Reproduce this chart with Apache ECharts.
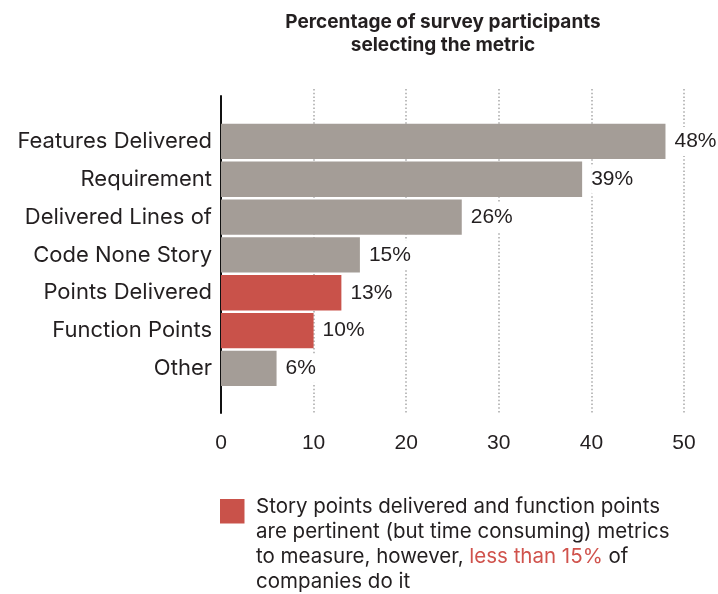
<!DOCTYPE html>
<html>
<head>
<meta charset="utf-8">
<script src="https://cdn.jsdelivr.net/npm/echarts@6/dist/echarts.min.js"></script>
<style>
  html, body { margin: 0; padding: 0; background: #fff; }
  #chart { width: 718px; height: 594px; }
</style>
</head>
<body>
<div id="chart"></div>
<script>
// Survey: share of participants choosing each productivity metric
const categories = [
  'Features Delivered',
  'Requirement',
  'Delivered Lines of',
  'Code None Story',
  'Points Delivered',
  'Function Points',
  'Other'
];
const percentValues = [48, 39, 26, 15, 13, 10, 6];
const highlighted = ['Points Delivered', 'Function Points'];
const xTicks = [0, 10, 20, 30, 40, 50];

const GREY = '#a49d97';
const RED = '#c9524a';
const INK = '#231f20';
const TEXT_FONT = 'Inter';
const NUM_FONT = 'Liberation Sans';

const chart = echarts.init(document.getElementById('chart'), null, { renderer: 'canvas' });

const barData = percentValues.map((v, i) => ({
  value: v,
  itemStyle: { color: highlighted.includes(categories[i]) ? RED : GREY }
}));

const option = {
  backgroundColor: '#fff',
  animation: false,
  title: {
    text: 'Percentage of survey participants\nselecting the metric',
    left: 438,
    top: 6,
    textAlign: 'center',
    textStyle: {
      fontFamily: TEXT_FONT,
      fontWeight: 'bold',
      fontSize: 19,
      lineHeight: 22.6,
      color: INK
    }
  },
  grid: [
    // scale + dotted guides
    { left: 221, right: 34, top: 89, bottom: 181 },
    // vertical axis rule
    { left: 221, right: 34, top: 96, bottom: 181 },
    // bars
    { left: 221, right: 34, top: 122.5, height: 264.8 }
  ],
  xAxis: [
    {
      gridIndex: 0, type: 'value', min: xTicks[0], max: xTicks[xTicks.length - 1],
      interval: xTicks[1] - xTicks[0],
      axisLine: { show: false }, axisTick: { show: false },
      axisLabel: { margin: 20, fontFamily: NUM_FONT, fontSize: 21, color: INK },
      splitLine: {
        show: true, showMinLine: false,
        lineStyle: { color: '#a8a8a8', width: 1.5, type: [1.5, 2.2] }
      }
    },
    {
      gridIndex: 1, type: 'value', min: 0, max: 50, show: false
    },
    {
      gridIndex: 2, type: 'value', min: 0, max: 50,
      axisLine: { show: false }, axisTick: { show: false },
      axisLabel: { show: false }, splitLine: { show: false }
    }
  ],
  yAxis: [
    {
      gridIndex: 0, type: 'value', show: false
    },
    {
      gridIndex: 1, type: 'category', data: [''],
      axisLine: { show: true, lineStyle: { color: '#111', width: 2 } },
      axisTick: { show: false }, axisLabel: { show: false }, splitLine: { show: false }
    },
    {
      gridIndex: 2, type: 'category', data: categories, inverse: true,
      axisLine: { show: false }, axisTick: { show: false },
      axisLabel: { margin: 9, fontFamily: TEXT_FONT, fontSize: 22, color: INK }
    }
  ],
  series: [
    {
      type: 'bar',
      xAxisIndex: 2,
      yAxisIndex: 2,
      data: barData,
      barWidth: 35.3,
      z: 3,
      label: {
        show: true,
        position: 'right',
        distance: 9,
        formatter: '{c}%',
        fontFamily: NUM_FONT,
        fontSize: 21,
        color: INK,
        backgroundColor: '#fff',
        padding: [4, 0]
      }
    }
  ],
  graphic: [
    {
      type: 'rect',
      left: 220, top: 499,
      shape: { width: 24.5, height: 24.5 },
      style: { fill: RED }
    },
    {
      type: 'text',
      left: 256, top: 494,
      style: {
        text: 'Story points delivered and function points\nare pertinent (but time consuming) metrics\nto measure, however, {hi|less than 15%} of\ncompanies do it',
        fontFamily: TEXT_FONT,
        fontSize: 20.5,
        lineHeight: 25,
        fill: INK,
        rich: {
          hi: { fill: '#d0524c', fontFamily: TEXT_FONT, fontSize: 20.5, lineHeight: 25 }
        }
      }
    }
  ]
};

chart.setOption(option);
</script>
</body>
</html>
